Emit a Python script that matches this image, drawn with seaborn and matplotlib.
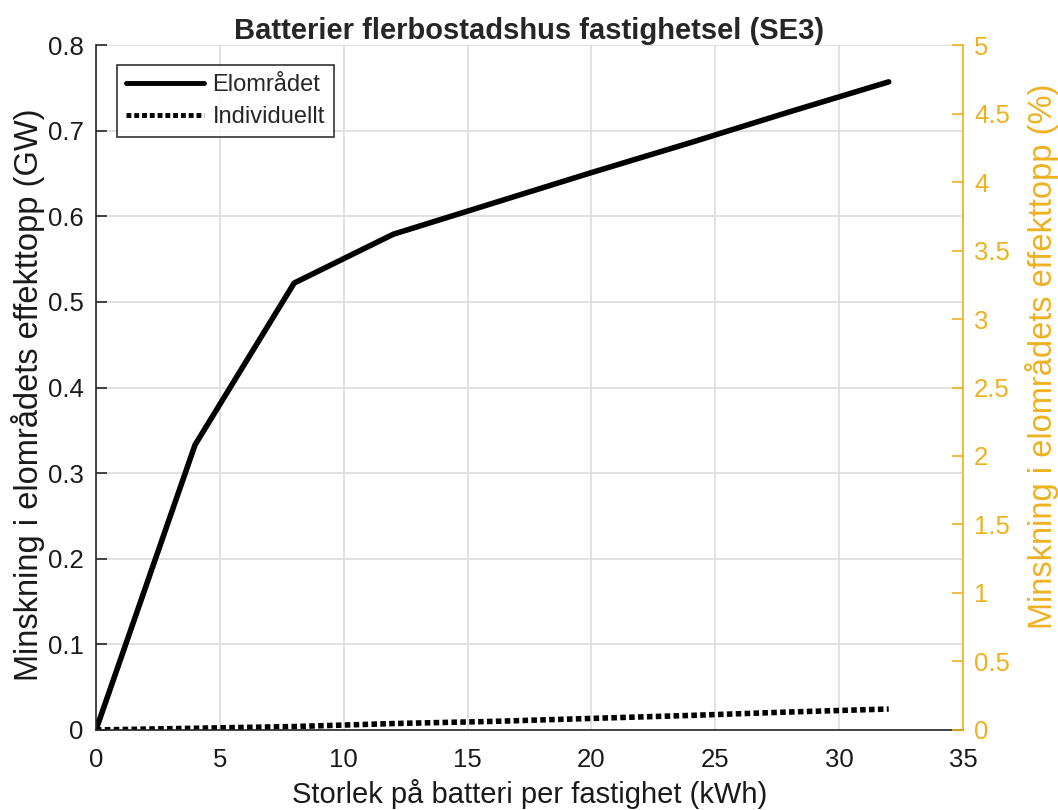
import matplotlib
matplotlib.use("Agg")
import matplotlib.pyplot as plt
import seaborn as sns
import pandas as pd

# Battery size per property (kWh)
battery_kwh = [0, 4, 8, 12, 16, 20, 24, 28, 32]
# Reduction of the area's peak power (GW)
elomradet = [0.0, 0.333, 0.522, 0.579, 0.615, 0.651, 0.686, 0.722, 0.757]
individuellt = [0.0, 0.002, 0.004, 0.0075, 0.010, 0.0135, 0.017, 0.021, 0.0245]
series_names = ["Elområdet", "Individuellt"]

x_ticks = [0, 5, 10, 15, 20, 25, 30, 35]
y_ticks = [0, 0.1, 0.2, 0.3, 0.4, 0.5, 0.6, 0.7, 0.8]
y2_ticks = [0, 0.5, 1, 1.5, 2, 2.5, 3, 3.5, 4, 4.5, 5]

df = pd.DataFrame({
    "kWh": battery_kwh * 2,
    "GW": elomradet + individuellt,
    "Serie": [series_names[0]] * len(battery_kwh) + [series_names[1]] * len(battery_kwh),
})

sns.set_theme(style="white")
plt.rcParams["font.family"] = ["Liberation Sans", "DejaVu Sans"]

gold = "#EDB120"
axis_gray = "#262626"
text_dark = "#1a1a1a"

fig = plt.figure(figsize=(10.58, 8.10), dpi=100)
ax = fig.add_axes([0.0907, 0.0988, 0.8195, 0.8456])

sns.lineplot(data=df, x="kWh", y="GW", hue="Serie", style="Serie",
             palette=["black", "black"],
             dashes={series_names[0]: "", series_names[1]: (1.0, 0.6)},
             linewidth=4, ax=ax, legend=True)

ax.set_xlim(0, 35)
ax.set_ylim(0, 0.8)
ax.set_xticks(x_ticks)
ax.set_xticklabels([str(t) for t in x_ticks])
ax.set_yticks(y_ticks)
ax.set_yticklabels(["0"] + [f"{t:.1f}" for t in y_ticks[1:]])
ax.grid(True, color="#dcdcdc", linewidth=1.2)
ax.set_axisbelow(True)

for side in ["top", "right"]:
    ax.spines[side].set_visible(False)
for side in ["left", "bottom"]:
    ax.spines[side].set_color(axis_gray)
    ax.spines[side].set_linewidth(1.2)
ax.tick_params(axis="both", direction="in", length=8, width=1.2,
               colors=axis_gray, labelsize=18.5)
ax.tick_params(axis="both", labelcolor=text_dark)
ax.tick_params(axis="x", pad=13)
ax.tick_params(axis="y", pad=9)

ax.set_xlabel("Storlek på batteri per fastighet (kWh)", fontsize=21,
              color=text_dark, labelpad=5)
ax.set_ylabel("Minskning i elområdets effekttopp (GW)", fontsize=23.5,
              color=text_dark)
ax.yaxis.set_label_coords(-0.059, 0.49)
ax.set_title("Batterier flerbostadshus fastighetsel (SE3)", fontsize=21,
             fontweight="bold", pad=3)

leg = ax.legend(title=None, loc="upper left", bbox_to_anchor=(0.024, 0.971),
                fontsize=17, frameon=True, fancybox=False, handlelength=3.3,
                borderpad=0.4, labelspacing=0.4, handletextpad=0.35,
                borderaxespad=0)
leg.get_frame().set_edgecolor("black")
leg.get_frame().set_linewidth(1.2)
for h in leg.get_lines():
    h.set_linewidth(3.5)

# Secondary axis in percent
ax2 = ax.twinx()
ax2.set_ylim(0, 5)
ax2.set_yticks(y2_ticks)
ax2.set_yticklabels([f"{t:g}" for t in y2_ticks])
for side in ["top", "left", "bottom"]:
    ax2.spines[side].set_visible(False)
ax2.spines["right"].set_color(gold)
ax2.spines["right"].set_linewidth(1.2)
ax2.tick_params(axis="y", direction="in", length=8, width=1.2,
                colors=gold, labelsize=18.5, pad=8)
ax2.set_ylabel("Minskning i elområdets effekttopp (%)", fontsize=23.5,
               color=gold)
ax2.yaxis.set_label_coords(1.072, 0.545)
ax2.grid(False)

fig.savefig("out.png", dpi=100)
